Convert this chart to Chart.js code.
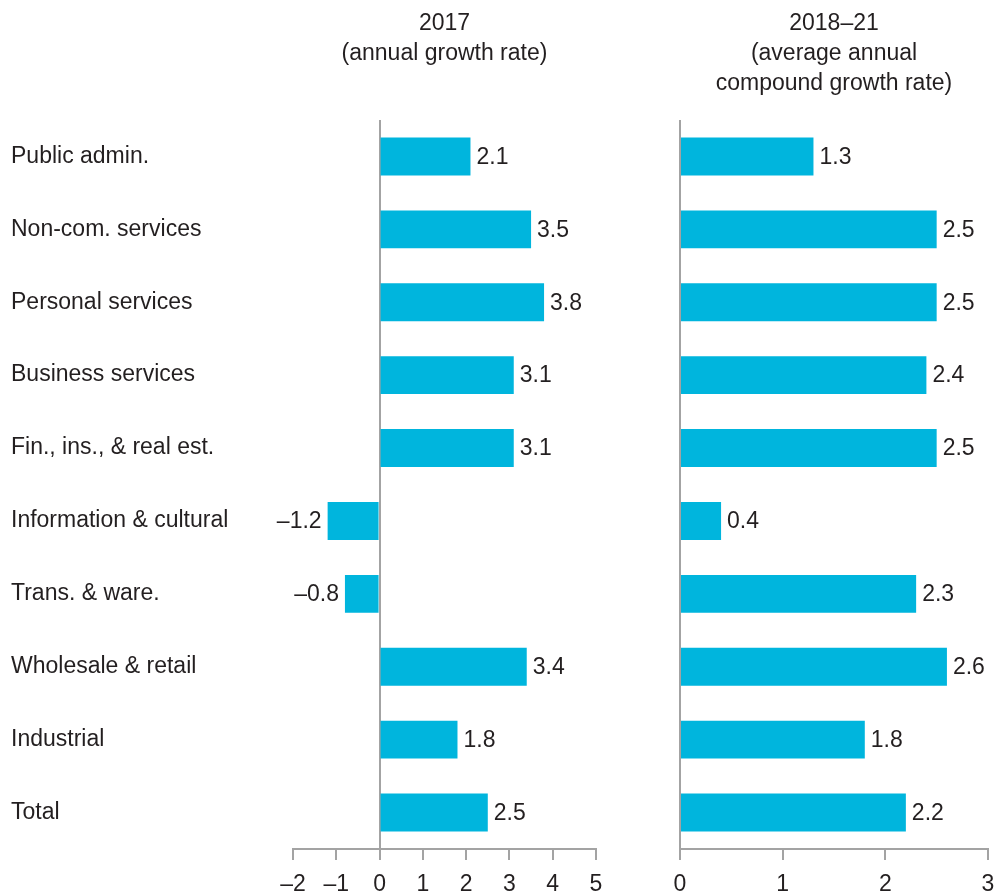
<!DOCTYPE html>
<html>
<head>
<meta charset="utf-8">
<script src="https://cdn.jsdelivr.net/npm/chart.js@4/dist/chart.umd.min.js"></script>
<style>
    html, body { margin: 0; padding: 0; background: #fff; }
    body { width: 997px; height: 894px; position: relative; overflow: hidden; }
    .panel { position: absolute; top: 0; height: 894px; }
    #leftPanel { left: 0; width: 640px; }
    #rightPanel { left: 640px; width: 357px; }
</style>
</head>
<body>
<div class="panel" id="leftPanel"><canvas id="chart2017"></canvas></div>
<div class="panel" id="rightPanel"><canvas id="chart1821"></canvas></div>
<script>
const categories = [
    'Public admin.',
    'Non-com. services',
    'Personal services',
    'Business services',
    'Fin., ins., & real est.',
    'Information & cultural',
    'Trans. & ware.',
    'Wholesale & retail',
    'Industrial',
    'Total'
];
const growth2017 = [2.1, 3.5, 3.8, 3.1, 3.1, -1.2, -0.8, 3.4, 1.8, 2.5];
const growth2018to21 = [1.3, 2.5, 2.5, 2.4, 2.5, 0.4, 2.3, 2.6, 1.8, 2.2];
const ticks2017 = [-2, -1, 0, 1, 2, 3, 4, 5];
const ticks2018to21 = [0, 1, 2, 3];
const title2017 = ['2017', '(annual growth rate)'];
const title2018to21 = ['2018\u201321', '(average annual', 'compound growth rate)'];

const FONT = '"Liberation Sans", Arial, Helvetica, sans-serif';
const TEXT = '#231f20';
const BAR = '#00b5dd';
const AXIS = '#a3a3a3';
const SIZE = 23;

// en-dash for negatives, like the print version
const fmt = (v, digits) => (v < 0 ? '\u2013' : '') + Math.abs(v).toFixed(digits);

// value labels at the end of each bar
const valueLabels = {
    id: 'valueLabels',
    afterDatasetsDraw(chart) {
        const ctx = chart.ctx;
        const values = chart.data.datasets[0].data;
        ctx.save();
        ctx.font = SIZE + 'px ' + FONT;
        ctx.fillStyle = TEXT;
        ctx.textBaseline = 'middle';
        chart.getDatasetMeta(0).data.forEach((bar, i) => {
            const v = values[i];
            if (v < 0) {
                ctx.textAlign = 'right';
                ctx.fillText(fmt(v, 1), bar.x - 6, bar.y + 1);
            } else {
                ctx.textAlign = 'left';
                ctx.fillText(fmt(v, 1), bar.x + 6, bar.y + 1);
            }
        });
        ctx.restore();
    }
};

function makeChart(el, values, tickList, title, showLabels, padding, titlePadBottom) {
    return new Chart(el, {
        type: 'bar',
        data: {
            labels: categories,
            datasets: [{
                data: values,
                backgroundColor: BAR,
                borderWidth: 0,
                barPercentage: 0.52,
                categoryPercentage: 1
            }]
        },
        options: {
            indexAxis: 'y',
            responsive: true,
            maintainAspectRatio: false,
            animation: false,
            layout: { padding: padding },
            plugins: {
                legend: { display: false },
                tooltip: { enabled: false },
                title: {
                    display: true,
                    text: title,
                    fullSize: false,
                    color: TEXT,
                    font: { family: FONT, size: SIZE, weight: 'normal', lineHeight: 30 / SIZE },
                    padding: { top: 9, bottom: titlePadBottom }
                }
            },
            scales: {
                x: {
                    min: tickList[0],
                    max: tickList[tickList.length - 1],
                    afterBuildTicks: (scale) => {
                        scale.ticks = tickList.map(v => ({ value: v }));
                    },
                    afterFit: (scale) => {
                        scale.height = 45;
                        // edge labels may overhang, the layout padding decides the plot width
                        scale.paddingLeft = 0;
                        scale.paddingRight = 0;
                    },
                    border: { display: true, color: AXIS, width: 2 },
                    grid: {
                        drawOnChartArea: true,
                        color: (c) => (c.tick && c.tick.value === 0 ? AXIS : 'rgba(0,0,0,0)'),
                        tickColor: AXIS,
                        tickLength: 11,
                        lineWidth: 2
                    },
                    ticks: {
                        color: TEXT,
                        padding: 11,
                        maxRotation: 0,
                        font: { family: FONT, size: SIZE },
                        callback: (v) => fmt(v, 0)
                    }
                },
                y: {
                    display: showLabels,
                    afterFit: (scale) => { if (showLabels) scale.width = 282; },
                    border: { display: false },
                    grid: { display: false },
                    ticks: {
                        crossAlign: 'far',
                        color: TEXT,
                        font: { family: FONT, size: SIZE }
                    }
                }
            }
        },
        plugins: [valueLabels]
    });
}

makeChart(document.getElementById('chart2017'), growth2017, ticks2017, title2017, true,
    { top: 0, left: 11, right: 44, bottom: 0 }, 51);
makeChart(document.getElementById('chart1821'), growth2018to21, ticks2018to21, title2018to21, false,
    { top: 0, left: 40, right: 9, bottom: 0 }, 21);
</script>
</body>
</html>
